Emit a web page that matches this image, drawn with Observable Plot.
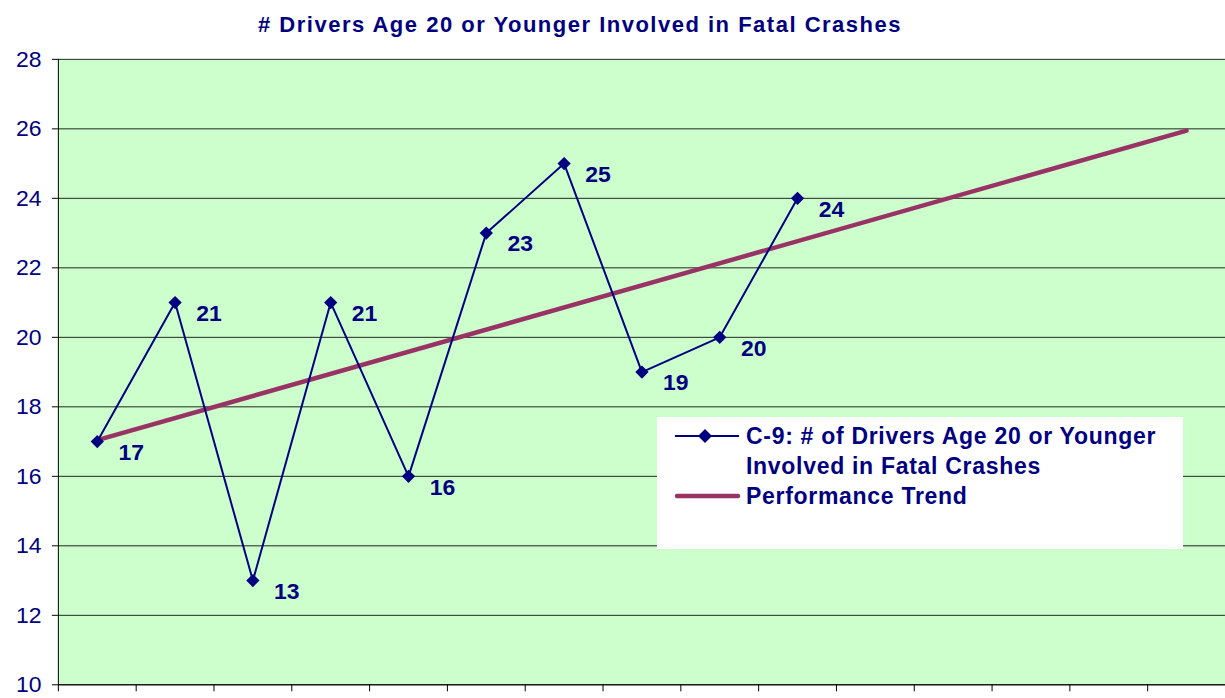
<!DOCTYPE html>
<html><head><meta charset="utf-8">
<script src="https://cdn.jsdelivr.net/npm/d3@7"></script>
<script src="https://cdn.jsdelivr.net/npm/@observablehq/plot@0.6"></script>
<style>
html,body{margin:0;padding:0;background:#fff;overflow:hidden;width:1225px;height:698px;}
#wrap{position:relative;width:1225px;height:698px;font-family:"Liberation Sans",Arial,sans-serif;overflow:hidden;}
#chart{position:absolute;left:0;top:0;}
#title{position:absolute;left:258px;top:12px;font-size:22px;font-weight:bold;color:#000080;white-space:nowrap;letter-spacing:1.5px;}
#legend{position:absolute;left:657px;top:417px;width:526px;height:132px;background:#fff;color:#000080;font-weight:bold;font-size:23px;}
#legend .row{position:absolute;left:18px;}
#legend svg{position:absolute;left:0;top:0;}
#legend .txt{position:absolute;left:71px;white-space:nowrap;letter-spacing:0.7px;line-height:30px;}
</style>
</head><body>
<div id="wrap">
  <div id="title"># Drivers Age 20 or Younger Involved in Fatal Crashes</div>
  <div id="chart"></div>
  <div id="legend">
    <div class="row" style="top:4px;width:510px;height:60px;">
      <svg width="68" height="30"><line x1="0" y1="15" x2="64" y2="15" stroke="#000080" stroke-width="2"/><path d="M30,8 L37,15 L30,22 L23,15 Z" fill="#000080"/></svg>
      <div class="txt" style="top:0;">C-9: # of Drivers Age 20 or Younger<br>Involved in Fatal Crashes</div>
    </div>
    <div class="row" style="top:64px;width:510px;height:30px;">
      <svg width="68" height="30"><line x1="2" y1="15" x2="63" y2="15" stroke="#993366" stroke-width="4.5" stroke-linecap="round"/></svg>
      <div class="txt" style="top:0;">Performance Trend</div>
    </div>
  </div>
</div>
<script>
// Data
const periods = [1,2,3,4,5,6,7,8,9,10];
const counts = [17,21,13,21,16,23,25,19,20,24];
const trendPeriods = [1,15];
const trendValues = [17.04,25.95];
const yTicks = [10,12,14,16,18,20,22,24,26,28];
const xBoundaries = [0.5,1.5,2.5,3.5,4.5,5.5,6.5,7.5,8.5,9.5,10.5,11.5,12.5,13.5,14.5,15.5];

const series = periods.map((p,i)=>({p, v:counts[i]}));
const trend = trendPeriods.map((p,i)=>({p, v:trendValues[i]}));
const navy = "#000080";

const chart = Plot.plot({
  width: 1228,
  height: 698,
  marginLeft: 58,
  marginRight: 0,
  marginTop: 59,
  marginBottom: 12,
  style: {fontFamily: '"Liberation Sans", Arial, sans-serif', background: "transparent", overflow: "visible"},
  x: {type: "linear", domain: [0.5, 15.5]},
  y: {domain: [10, 28]},
  marks: [
    Plot.frame({fill: "#CCFFCC", stroke: null}),
    Plot.gridY(yTicks, {stroke: "#000", strokeOpacity: 0.85, strokeWidth: 1}),
    Plot.ruleX([0.5], {stroke: "#000", strokeWidth: 1}),
    Plot.ruleY([10], {stroke: "#000", strokeWidth: 1}),
    Plot.axisY({ticks: yTicks, tickSize: 6, tickFormat: () => "", label: null, stroke: "#000"}),
    Plot.text(yTicks, {x: 0.5, y: d => d, text: d => String(d), dx: -17, textAnchor: "end", fontSize: 23, fill: navy}),
    Plot.axisX({ticks: xBoundaries, tickSize: 7, tickFormat: () => "", label: null, stroke: "#000"}),
    Plot.line(trend, {x: "p", y: "v", stroke: "#993366", strokeWidth: 4.5, strokeLinecap: "round"}),
    Plot.line(series, {x: "p", y: "v", stroke: navy, strokeWidth: 2}),
    Plot.dot(series, {x: "p", y: "v", symbol: "diamond2", r: 6, fill: navy, stroke: null}),
    Plot.text(series, {x: "p", y: "v", text: d => String(d.v), dx: 34, dy: 11, fontSize: 23, fontWeight: "bold", fill: navy})
  ]
});
document.getElementById("chart").appendChild(chart);
</script>
</body></html>
